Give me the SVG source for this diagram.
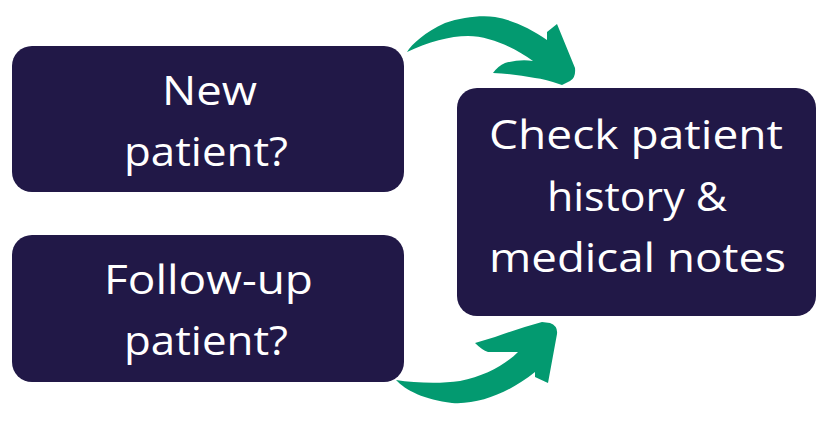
<svg xmlns="http://www.w3.org/2000/svg" width="827" height="427" viewBox="0 0 827 427">
<style>
.box{fill:#211847;}
.lbl{fill:#ffffff;font-family:"Open Sans","Liberation Sans",sans-serif;font-size:40px;text-anchor:middle;}
.arr{fill:#039a70;}
</style>
<rect width="827" height="427" fill="#ffffff"/>
<g id="connectors">
<path class="arr" d="M407,52 C412,44 425,32 445,23 C462,17 482,15 495,17 C512,20 530,28 547,40 L547,32 L557,24 L575,68 Q576,78 570,81 L562,85 Q545,79 535,78 Q515,74 493,73 Q498,66 505,63 Q520,59 533,61 C515,48 490,36 468,36 C450,36 428,42 407,52 Z"/>
<path class="arr" d="M396,380 C405,390 425,400 452,403 C480,405 510,392 535,372 L535,377 L548,383 L557,334 Q558,326 550,323 L542,322 Q520,328 495,337 L475,343 Q482,350 488,352 L518,352 C505,365 485,376 460,381 C440,384 415,383 396,380 Z"/>
</g>
<g id="node-new">
<rect class="box" x="12" y="46" width="392" height="146" rx="20"/>
<text class="lbl" x="209.5" y="105" textLength="95" lengthAdjust="spacingAndGlyphs">New</text>
<text class="lbl" x="206" y="166" textLength="164" lengthAdjust="spacingAndGlyphs">patient?</text>
</g>
<g id="node-followup">
<rect class="box" x="12" y="235" width="392" height="147" rx="20"/>
<text class="lbl" x="208.5" y="294" textLength="209" lengthAdjust="spacingAndGlyphs">Follow-up</text>
<text class="lbl" x="206" y="355" textLength="164" lengthAdjust="spacingAndGlyphs">patient?</text>
</g>
<g id="node-check">
<rect class="box" x="457" y="88" width="359" height="228" rx="20"/>
<text class="lbl" x="636" y="149" textLength="294" lengthAdjust="spacingAndGlyphs">Check patient</text>
<text class="lbl" x="637" y="211" textLength="180" lengthAdjust="spacingAndGlyphs">history &amp;</text>
<text class="lbl" x="637.5" y="272" textLength="297" lengthAdjust="spacingAndGlyphs">medical notes</text>
</g>
</svg>
